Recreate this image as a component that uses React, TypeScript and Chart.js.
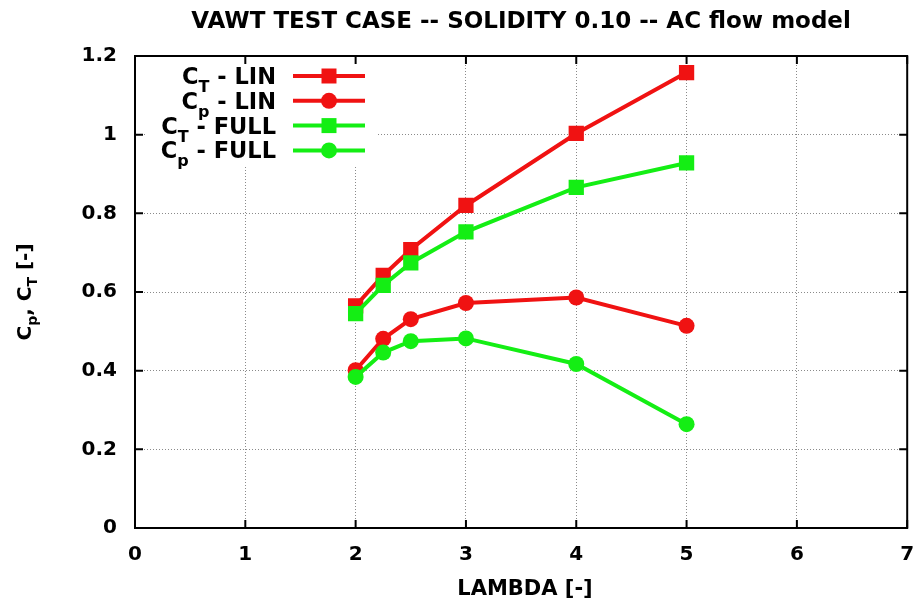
import React, { useEffect, useRef } from 'react';
import { Chart, registerables } from 'chart.js';

Chart.register(...registerables);

// ---- data ----
const lambdaValues = [2, 2.25, 2.5, 3, 4, 5];
const ctLin = [0.565, 0.642, 0.708, 0.82, 1.003, 1.158];
const cpLin = [0.401, 0.481, 0.531, 0.572, 0.586, 0.514];
const ctFull = [0.545, 0.617, 0.674, 0.753, 0.866, 0.928];
const cpFull = [0.384, 0.446, 0.475, 0.482, 0.417, 0.264];

const xTickValues = [0, 1, 2, 3, 4, 5, 6, 7];
const yTickValues = [0, 0.2, 0.4, 0.6, 0.8, 1.0, 1.2];

const titleText = 'VAWT TEST CASE -- SOLIDITY 0.10 -- AC flow model';
const xTitleText = 'LAMBDA [-]';

type Part = { t: string; sub?: boolean };
const yTitleParts: Part[] = [
  { t: 'C' }, { t: 'p', sub: true }, { t: ', C' }, { t: 'T', sub: true }, { t: ' [-]' },
];
const legendLabels: Part[][] = [
  [{ t: 'C' }, { t: 'T', sub: true }, { t: ' - LIN' }],
  [{ t: 'C' }, { t: 'p', sub: true }, { t: ' - LIN' }],
  [{ t: 'C' }, { t: 'T', sub: true }, { t: ' - FULL' }],
  [{ t: 'C' }, { t: 'p', sub: true }, { t: ' - FULL' }],
];

const RED = '#f01212';
const GREEN = '#14ee14';
const FAMILY = '"DejaVu Sans", "Liberation Sans", sans-serif';

const seriesColors = [RED, RED, GREEN, GREEN];
const seriesMarkers = ['rect', 'circle', 'rect', 'circle'];

function measureParts(ctx: CanvasRenderingContext2D, parts: Part[], size: number, subSize: number) {
  let w = 0;
  for (const p of parts) {
    ctx.font = `bold ${p.sub ? subSize : size}px ${FAMILY}`;
    w += ctx.measureText(p.t).width;
  }
  return w;
}

function drawParts(ctx: CanvasRenderingContext2D, parts: Part[], x: number, y: number, size: number, subSize: number, subOff: number) {
  let cx = x;
  ctx.textAlign = 'left';
  ctx.textBaseline = 'alphabetic';
  for (const p of parts) {
    ctx.font = `bold ${p.sub ? subSize : size}px ${FAMILY}`;
    ctx.fillText(p.t, cx, p.sub ? y + subOff : y);
    cx += ctx.measureText(p.t).width;
  }
}

function drawMarker(ctx: CanvasRenderingContext2D, kind: string, x: number, y: number, color: string) {
  ctx.fillStyle = color;
  ctx.beginPath();
  if (kind === 'rect') {
    ctx.rect(x - 7.5, y - 7.5, 15, 15);
  } else {
    ctx.arc(x, y, 8, 0, Math.PI * 2);
  }
  ctx.fill();
}

const decorPlugin = {
  id: 'decor',
  beforeDatasetsDraw(chart: any) {
    const ctx = chart.ctx as CanvasRenderingContext2D;
    ctx.save();
    ctx.fillStyle = '#ffffff';
    ctx.fillRect(145, 58, 232, 107);
    ctx.restore();
  },
  afterDatasetsDraw(chart: any) {
    const ctx = chart.ctx as CanvasRenderingContext2D;
    const { left, right, top, bottom } = chart.chartArea;
    const xs = chart.scales.x;
    const ys = chart.scales.y;
    ctx.save();
    // frame
    ctx.strokeStyle = '#000';
    ctx.lineWidth = 2;
    ctx.strokeRect(left, top, right - left, bottom - top);
    // inward ticks (mirrored)
    ctx.beginPath();
    for (const v of xTickValues) {
      const px = xs.getPixelForValue(v);
      ctx.moveTo(px, bottom);
      ctx.lineTo(px, bottom - 8);
      ctx.moveTo(px, top);
      ctx.lineTo(px, top + 8);
    }
    for (const v of yTickValues) {
      const py = ys.getPixelForValue(v);
      ctx.moveTo(left, py);
      ctx.lineTo(left + 8, py);
      ctx.moveTo(right, py);
      ctx.lineTo(right - 8, py);
    }
    ctx.stroke();

    // legend
    legendLabels.forEach((parts, i) => {
      const rowY = 76 + i * 24.8;
      const w = measureParts(ctx, parts, 22.5, 16);
      ctx.fillStyle = '#000';
      drawParts(ctx, parts, 276 - w, rowY + 8, 22.5, 16, 8);
      ctx.strokeStyle = seriesColors[i];
      ctx.lineWidth = 4;
      ctx.beginPath();
      ctx.moveTo(293, rowY);
      ctx.lineTo(365, rowY);
      ctx.stroke();
      drawMarker(ctx, seriesMarkers[i], 329, rowY, seriesColors[i]);
    });

    // title
    ctx.fillStyle = '#000';
    ctx.font = `bold 23px ${FAMILY}`;
    ctx.textAlign = 'center';
    ctx.textBaseline = 'alphabetic';
    ctx.fillText(titleText, (left + right) / 2, 28);

    // x title
    ctx.font = `bold 21px ${FAMILY}`;
    ctx.fillText(xTitleText, 525, 595);

    // y title (rotated)
    ctx.translate(24, (top + bottom) / 2);
    ctx.rotate(-Math.PI / 2);
    const yw = measureParts(ctx, yTitleParts, 20, 14);
    drawParts(ctx, yTitleParts, -yw / 2, 7, 20, 14, 6);
    ctx.restore();
  },
};

export default function App() {
  const canvasRef = useRef<HTMLCanvasElement | null>(null);

  useEffect(() => {
    document.body.style.margin = '0';
    const canvas = canvasRef.current;
    if (!canvas) return;
    const mk = (label: string, data: number[], color: string, marker: string, order: number) => ({
      label,
      data: lambdaValues.map((x, i) => ({ x, y: data[i] })),
      borderColor: color,
      backgroundColor: color,
      borderWidth: 4,
      pointStyle: marker,
      pointRadius: marker === 'rect' ? 10.8 : 8,
      pointBorderWidth: 0,
      pointBackgroundColor: color,
      tension: 0,
      order,
    });
    const chart = new Chart(canvas, {
      type: 'line',
      data: {
        datasets: [
          mk('CT - LIN', ctLin, RED, 'rect', 1),
          mk('Cp - LIN', cpLin, RED, 'circle', 1),
          mk('CT - FULL', ctFull, GREEN, 'rect', 0),
          mk('Cp - FULL', cpFull, GREEN, 'circle', 0),
        ],
      },
      options: {
        animation: false,
        responsive: false,
        devicePixelRatio: 1,
        layout: { padding: { top: 56, right: 10, left: 0, bottom: 0 } },
        plugins: { legend: { display: false }, title: { display: false }, tooltip: { enabled: false } },
        scales: {
          x: {
            type: 'linear',
            min: 0,
            max: 7,
            afterBuildTicks: (s: any) => { s.ticks = xTickValues.map((v) => ({ value: v })); },
            afterFit: (s: any) => { s.height = 77; s.paddingLeft = 0; s.paddingRight = 0; },
            ticks: {
              color: '#000',
              font: { family: FAMILY, size: 20, weight: 'bold' },
              padding: 15,
              maxRotation: 0,
              autoSkip: false,
              callback: (v: any) => String(v),
            },
            grid: { color: '#8a8a8a', lineWidth: 1, drawTicks: false },
            border: { display: false, dash: [1, 2] },
          },
          y: {
            type: 'linear',
            min: 0,
            max: 1.2,
            afterBuildTicks: (s: any) => { s.ticks = yTickValues.map((v) => ({ value: v })); },
            afterFit: (s: any) => { s.width = 135; s.paddingTop = 0; s.paddingBottom = 0; },
            ticks: {
              color: '#000',
              font: { family: FAMILY, size: 20, weight: 'bold' },
              padding: 18,
              autoSkip: false,
              callback: (v: any) => String(Math.round(Number(v) * 10) / 10),
            },
            grid: { color: '#8a8a8a', lineWidth: 1, drawTicks: false },
            border: { display: false, dash: [1, 2] },
          },
        },
      },
      plugins: [decorPlugin],
    } as any);
    return () => chart.destroy();
  }, []);

  return (
    <div style={{ width: 918, height: 605, background: '#fff' }}>
      <canvas ref={canvasRef} width={918} height={605} style={{ display: 'block' }} />
    </div>
  );
}
